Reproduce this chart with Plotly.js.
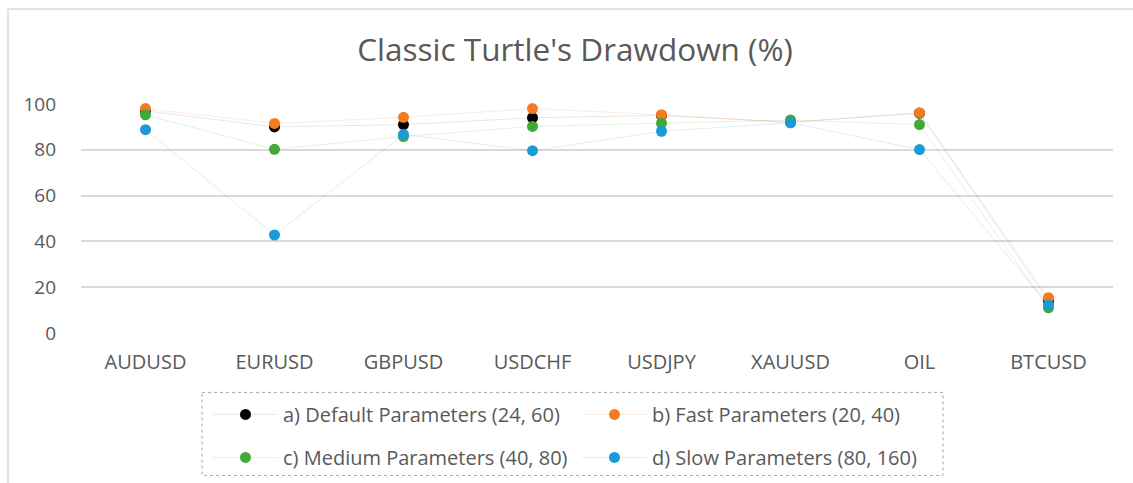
<!DOCTYPE html>
<html>
<head>
<meta charset="utf-8">
<script src="https://cdn.plot.ly/plotly-3.0.1.min.js"></script>
<style>html,body{margin:0;padding:0;background:#fff;}#chart{width:1133px;height:483px;}</style>
</head>
<body>
<div id="chart"></div>
<script>
const categories = ["AUDUSD", "EURUSD", "GBPUSD", "USDCHF", "USDJPY", "XAUUSD", "OIL", "BTCUSD"];
const defaultParams = [97, 90, 91, 94, 95, 92, 96, 14];
const fastParams    = [98, 91.5, 94.2, 98, 95.3, 92, 96.2, 15.4];
const mediumParams  = [95.3, 80.2, 85.8, 90.2, 91.6, 93, 91, 11];
const slowParams    = [88.8, 42.8, 86.7, 79.6, 88.1, 91.8, 80.1, 12.2];
const seriesNames = ["a) Default Parameters (24, 60)", "b) Fast Parameters (20, 40)", "c) Medium Parameters (40, 80)", "d) Slow Parameters (80, 160)"];
const yTicks = [0, 20, 40, 60, 80, 100];

const FONT = "Open Sans, sans-serif";
const GREY = "#595959";

const colors = ["#000000", "#F47B20", "#3FAA35", "#1A9AD7"];
const lineColors = ["rgba(0,0,0,0.10)", "rgba(244,123,32,0.16)", "rgba(63,170,53,0.15)", "rgba(26,154,215,0.16)"];
const legendRefs = ["legend", "legend", "legend2", "legend2"];
const data = [defaultParams, fastParams, mediumParams, slowParams].map((vals, i) => ({
  type: "scatter",
  mode: "lines+markers",
  x: categories,
  y: vals,
  name: seriesNames[i],
  legend: legendRefs[i],
  line: {color: lineColors[i], width: 1},
  marker: {color: colors[i], size: 11},
  cliponaxis: false,
  hoverinfo: "x+y+name"
}));

// plot area in pixels: left 81, right 1113, top 104, bottom 332.7
const L = 81, R = 1113, T = 104, B = 332.7;
const W = R - L, H = B - T;
const px = v => (v - L) / W;
const py = v => (B - v) / H;

const legendCommon = {
  orientation: "h",
  xanchor: "left",
  yanchor: "middle",
  bgcolor: "rgba(0,0,0,0)",
  borderwidth: 0,
  font: {family: FONT, size: 20, color: GREY},
  entrywidth: 289,
  entrywidthmode: "pixels",
  itemwidth: 65,
  itemclick: false,
  itemdoubleclick: false
};

const layout = {
  width: 1133,
  height: 483,
  paper_bgcolor: "#ffffff",
  plot_bgcolor: "#ffffff",
  margin: {l: L, r: 1133 - R, t: T, b: 483 - B, autoexpand: false},
  title: {
    text: "Classic Turtle's Drawdown (%)",
    font: {family: FONT, size: 31.5, color: GREY},
    x: 575 / 1133,
    xanchor: "center",
    xref: "container",
    y: 1 - 50 / 483,
    yanchor: "middle",
    yref: "container"
  },
  xaxis: {
    type: "category",
    categoryorder: "array",
    categoryarray: categories,
    range: [-0.5, categories.length - 0.5],
    showgrid: false,
    zeroline: false,
    showline: false,
    ticks: "",
    ticklabelstandoff: 15,
    tickfont: {family: FONT, size: 20, color: GREY},
    automargin: false,
    fixedrange: true
  },
  yaxis: {
    range: [0, 100],
    tickvals: yTicks,
    ticktext: yTicks.map(String),
    showgrid: true,
    gridcolor: "#d9d9d9",
    gridwidth: 1.5,
    zeroline: false,
    showline: false,
    ticks: "",
    ticklabelstandoff: 24,
    tickfont: {family: FONT, size: 19, color: GREY},
    automargin: false,
    fixedrange: true
  },
  showlegend: true,
  legend: Object.assign({}, legendCommon, {x: px(208), y: py(414)}),
  legend2: Object.assign({}, legendCommon, {x: px(208), y: py(457)}),
  shapes: [
    {type: "rect", xref: "paper", yref: "paper", x0: px(202), x1: px(943), y0: py(392), y1: py(475),
     line: {color: "#a6a6a6", width: 1, dash: "dot"}, fillcolor: "rgba(0,0,0,0)", layer: "below"},
    {type: "line", xref: "paper", yref: "paper", x0: px(8), x1: px(1140), y0: py(9), y1: py(9),
     line: {color: "#d9d9d9", width: 1.5}},
    {type: "line", xref: "paper", yref: "paper", x0: px(8), x1: px(8), y0: py(9), y1: py(490),
     line: {color: "#d9d9d9", width: 1.5}}
  ],
  hovermode: "closest"
};

Plotly.newPlot("chart", data, layout, {displayModeBar: false, staticPlot: false, responsive: false});
</script>
</body>
</html>
